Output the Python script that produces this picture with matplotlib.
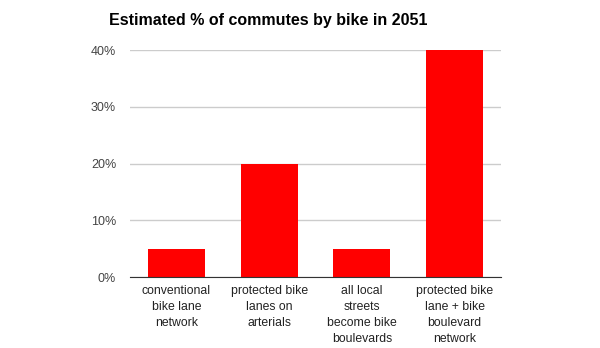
import matplotlib
matplotlib.use("Agg")
import matplotlib.pyplot as plt
from matplotlib.ticker import FuncFormatter

categories = [
    "conventional\nbike lane\nnetwork",
    "protected bike\nlanes on\narterials",
    "all local\nstreets\nbecome bike\nboulevards",
    "protected bike\nlane + bike\nboulevard\nnetwork",
]
share_pct = [5, 20, 5, 40]
y_ticks = [0, 10, 20, 30, 40]

plt.rcParams["font.family"] = ["Liberation Sans", "DejaVu Sans"]

fig = plt.figure(figsize=(6, 3.48), dpi=100)
ax = fig.add_axes([130 / 600, 1 - 277 / 348, 371 / 600, 227 / 348])

x = range(len(categories))
ax.bar(x, share_pct, width=0.615, color="#ff0000", zorder=3)

ax.set_xlim(-0.5, len(categories) - 0.5)
ax.set_ylim(0, 40)
ax.set_yticks(y_ticks)
ax.yaxis.set_major_formatter(FuncFormatter(lambda v, _: f"{v:.0f}%"))
ax.set_xticks(list(x))
ax.set_xticklabels(categories, fontsize=8.8, color="#222222", linespacing=1.45)

ax.grid(axis="y", color="#cccccc", linewidth=1, zorder=0)
for side in ("top", "right", "left"):
    ax.spines[side].set_visible(False)
ax.spines["bottom"].set_color("#333333")
ax.spines["bottom"].set_zorder(4)
ax.tick_params(axis="both", length=0)
ax.tick_params(axis="y", labelsize=9, labelcolor="#444444", pad=10)
ax.tick_params(axis="x", pad=6)

fig.text(268 / 600, 1 - 21 / 348, "Estimated % of commutes by bike in 2051",
         ha="center", va="center", fontsize=11.5, fontweight="bold", color="#000000")

fig.savefig("out.png", dpi=100)
